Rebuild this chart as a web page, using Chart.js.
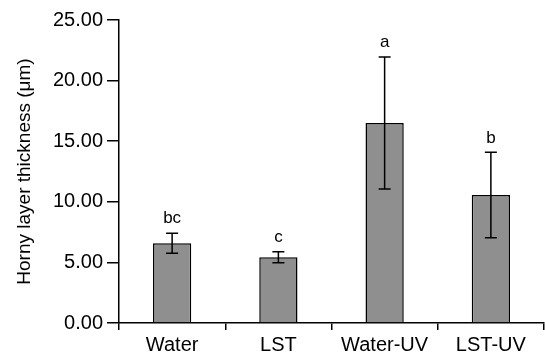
<!DOCTYPE html>
<html>
<head>
<meta charset="utf-8">
<script src="https://cdn.jsdelivr.net/npm/chart.js@4"></script>
<style>
  html, body { margin: 0; padding: 0; background: #fff; }
  #wrap { width: 545px; height: 356px; }
</style>
</head>
<body>
<div id="wrap"><canvas id="chart" width="545" height="356"></canvas></div>
<script>
const groups = ['Water', 'LST', 'Water-UV', 'LST-UV'];
const means = [6.58, 5.42, 16.5, 10.56];
const errors = [0.82, 0.45, 5.45, 3.52];
const letters = ['bc', 'c', 'a', 'b'];
const yTicks = [0, 5, 10, 15, 20, 25];

const FONT = '"Liberation Sans", Arial, sans-serif';

// error bars and significance letters
const errorBars = {
  id: 'errorBars',
  afterDatasetsDraw(chart) {
    const ctx = chart.ctx;
    const x = chart.scales.x;
    const y = chart.scales.y;
    ctx.save();
    ctx.strokeStyle = '#000';
    ctx.lineWidth = 1.5;
    means.forEach((m, i) => {
      const cx = x.getPixelForValue(i);
      const top = y.getPixelForValue(m + errors[i]);
      const bot = y.getPixelForValue(m - errors[i]);
      ctx.beginPath();
      ctx.moveTo(cx, top); ctx.lineTo(cx, bot);
      ctx.moveTo(cx - 6, top); ctx.lineTo(cx + 6, top);
      ctx.moveTo(cx - 6, bot); ctx.lineTo(cx + 6, bot);
      ctx.stroke();
      ctx.fillStyle = '#000';
      ctx.font = '17px ' + FONT;
      ctx.textAlign = 'center';
      ctx.textBaseline = 'bottom';
      ctx.fillText(letters[i], cx, top - 6);
    });
    ctx.restore();
  }
};

new Chart(document.getElementById('chart'), {
  type: 'bar',
  data: {
    labels: groups,
    datasets: [{
      data: means,
      backgroundColor: '#8f8f8f',
      borderColor: '#000',
      borderWidth: 1.5,
      borderSkipped: 'bottom',
      categoryPercentage: 1,
      barPercentage: 0.36
    }]
  },
  options: {
    responsive: false,
    animation: false,
    layout: { padding: { top: 20, right: 1, left: 0, bottom: 0 } },
    plugins: { legend: { display: false }, tooltip: { enabled: false } },
    scales: {
      x: {
        offset: true,
        grid: { offset: true, drawOnChartArea: false, color: '#000', tickLength: 7, lineWidth: 1.5 },
        border: { color: '#000', width: 1.5 },
        ticks: { color: '#000', font: { family: FONT, size: 20 }, padding: 3 },
        afterFit(s) { s.height = 33; }
      },
      y: {
        min: 0,
        max: 25,
        afterBuildTicks(s) { s.ticks = yTicks.map(v => ({ value: v })); },
        grid: { drawOnChartArea: false, color: '#000', tickLength: 12, lineWidth: 1.5 },
        border: { color: '#000', width: 1.5 },
        ticks: {
          color: '#000',
          font: { family: FONT, size: 20 },
          padding: 4,
          callback: v => v.toFixed(2)
        },
        title: {
          display: true,
          text: 'Horny layer thickness (\u03bcm)',
          color: '#000',
          font: { family: FONT, size: 19 },
          padding: { top: 13, bottom: 0 }
        },
        afterFit(s) { s.width = 119; }
      }
    }
  },
  plugins: [errorBars]
});
</script>
</body>
</html>
